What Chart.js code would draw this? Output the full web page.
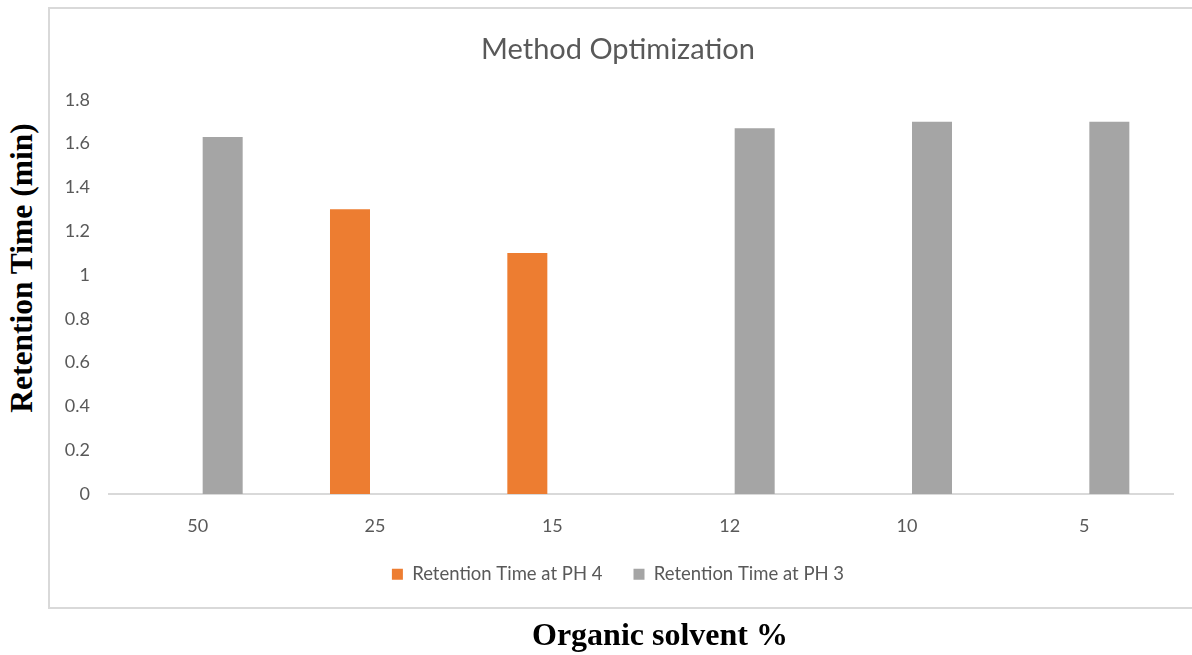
<!DOCTYPE html>
<html>
<head>
<meta charset="utf-8">
<script src="https://cdn.jsdelivr.net/npm/chart.js@4.4.1/dist/chart.umd.min.js"></script>
<style>
  html, body { margin: 0; padding: 0; width: 1192px; height: 655px; overflow: hidden; background: #ffffff; }
  #frame { position: absolute; left: 48px; top: 7px; width: 1160px; height: 598px; border: 2px solid #D9D9D9; box-sizing: content-box; }
  #wrap { position: absolute; left: 48px; top: 8px; width: 1150px; height: 620px; }
  .axtitle { position: absolute; white-space: nowrap; line-height: 1;
             font-family: "Liberation Serif", "Times New Roman", serif; font-weight: bold; color: #000; }
  #ytitle { left: 22.4px; top: 267.5px; font-size: 31.5px; transform: translate(-50%, -50%) rotate(-90deg); }
  #xtitle { left: 660px; top: 634px; font-size: 32px; transform: translate(-50%, -50%); }
</style>
</head>
<body>
<div id="frame"></div>
<div id="wrap"><canvas id="c" width="1150" height="620"></canvas></div>
<div id="ytitle" class="axtitle">Retention Time (min)</div>
<div id="xtitle" class="axtitle">Organic solvent %</div>
<script>
// ---- data ----
const categories = ['50', '25', '15', '12', '10', '5'];
const retentionPH4 = [null, 1.3, 1.1, null, null, null];
const retentionPH3 = [1.63, null, null, 1.67, 1.7, 1.7];
const seriesNames = ['Retention Time at PH 4', 'Retention Time at PH 3'];
const yTickValues = [0, 0.2, 0.4, 0.6, 0.8, 1, 1.2, 1.4, 1.6, 1.8];
const yTickLabels = ['0', '0.2', '0.4', '0.6', '0.8', '1', '1.2', '1.4', '1.6', '1.8'];
const chartTitle = 'Method Optimization';

const textGray = '#595959';
const excelFont = 'Lato, "Open Sans", sans-serif';

new Chart(document.getElementById('c'), {
  type: 'bar',
  data: {
    labels: categories,
    datasets: [
      { label: seriesNames[0], data: retentionPH4, backgroundColor: '#ED7D31', borderWidth: 0 },
      { label: seriesNames[1], data: retentionPH3, backgroundColor: '#A5A5A5', borderWidth: 0 }
    ]
  },
  options: {
    responsive: false,
    animation: false,
    devicePixelRatio: 1,
    layout: { padding: { left: 15, right: 25, top: 0, bottom: 34.5 } },
    datasets: { bar: { barPercentage: 0.8, categoryPercentage: 0.564 } },
    plugins: {
      title: {
        display: true, text: chartTitle, color: textGray,
        font: { family: excelFont, size: 29, weight: 'normal' },
        padding: { top: 24, bottom: 33 }
      },
      legend: {
        position: 'bottom',
        labels: {
          color: textGray, boxWidth: 11, boxHeight: 11, padding: 31,
          font: { family: excelFont, size: 18.5 }
        }
      },
      tooltip: { enabled: false }
    },
    scales: {
      x: {
        grid: { display: false, drawTicks: false },
        border: { display: true, color: '#D9D9D9', width: 2 },
        ticks: { color: textGray, font: { family: excelFont, size: 18 }, padding: 21, maxRotation: 0 },
        afterFit: s => { s.height = 40; }
      },
      y: {
        min: 0, max: 1.8,
        grid: { display: false, drawTicks: false },
        border: { display: false },
        afterBuildTicks: s => { s.ticks = yTickValues.map(v => ({ value: v })); },
        ticks: {
          color: textGray, font: { family: excelFont, size: 18 }, padding: 19,
          callback: (v) => { const i = yTickValues.findIndex(t => Math.abs(t - v) < 1e-9); return i >= 0 ? yTickLabels[i] : ''; }
        },
        afterFit: s => { s.width = 46; }
      }
    }
  }
});
</script>
</body>
</html>
